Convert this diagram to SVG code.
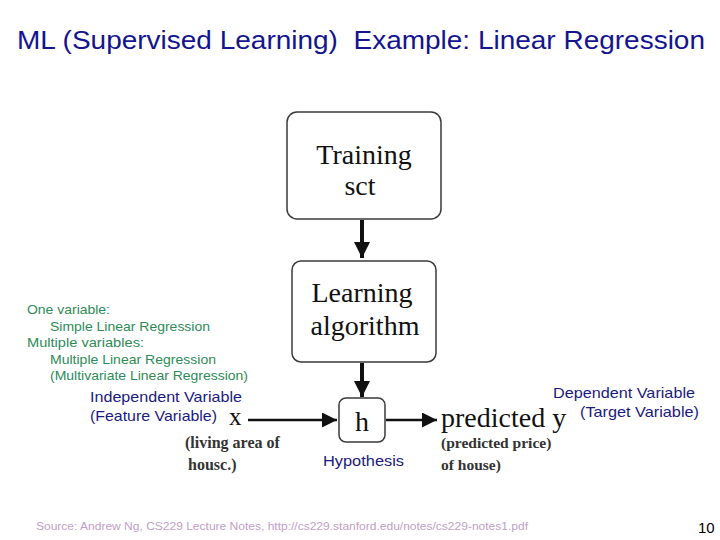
<svg xmlns="http://www.w3.org/2000/svg" width="720" height="540" viewBox="0 0 720 540">
<defs>
<style>
.box{fill:#fff;stroke:#3a3a3a;stroke-width:1.5}
.serif{font-family:"Liberation Serif","Times New Roman",serif;fill:#111}
.big{font-size:28px}
.sans{font-family:"Liberation Sans",Arial,sans-serif}
.blue{fill:#1a1a80}
.green{fill:#2e8b57;font-size:13.5px}
.con{stroke:#111;fill:none}
</style>
<marker id="ah" viewBox="0 0 10 10" refX="10" refY="5" markerWidth="4" markerHeight="4" markerUnits="strokeWidth" orient="auto"><path d="M0,0L10,5L0,10z" fill="#111"/></marker>
<marker id="ah2" viewBox="0 0 10 10" refX="10" refY="5" markerWidth="7" markerHeight="6" markerUnits="strokeWidth" orient="auto"><path d="M0,0L10,5L0,10z" fill="#111"/></marker>
</defs>
<rect width="720" height="540" fill="#fff"/>
<text x="17" y="49" class="sans" font-size="26" fill="#141490" xml:space="preserve" textLength="688" lengthAdjust="spacingAndGlyphs">ML (Supervised Learning)  Example: Linear Regression</text>

<g id="training-set">
<rect class="box" x="287" y="112" width="154" height="107" rx="10"/>
<text class="serif big" x="364" y="164" text-anchor="middle">Training</text>
<text class="serif big" x="360" y="195" text-anchor="middle">sct</text>
</g>
<g id="learning-algorithm">
<rect class="box" x="292" y="261" width="144" height="101" rx="9"/>
<text class="serif big" x="362" y="302" text-anchor="middle">Learning</text>
<text class="serif big" x="365" y="335" text-anchor="middle">algorithm</text>
</g>
<g id="hypothesis">
<rect class="box" x="339" y="398" width="46" height="44" rx="7"/>
<text class="serif big" x="362" y="431" text-anchor="middle">h</text>
<text class="sans blue" x="323" y="466" font-size="15" textLength="81" lengthAdjust="spacingAndGlyphs">Hypothesis</text>
</g>
<g id="input-x">
<text class="serif" x="229" y="425" font-size="25">x</text>
<text class="serif" x="185" y="448" font-size="16" font-weight="bold" style="fill:#333">(living area of</text>
<text class="serif" x="188" y="470" font-size="16" font-weight="bold" style="fill:#333">housc.)</text>
<text class="sans blue" x="90" y="402" font-size="15" textLength="152" lengthAdjust="spacingAndGlyphs">Independent Variable</text>
<text class="sans blue" x="90" y="421" font-size="15" textLength="127" lengthAdjust="spacingAndGlyphs">(Feature Variable)</text>
</g>
<g id="output-y">
<text class="serif big" x="441" y="427">predicted y</text>
<text class="serif" x="441" y="448" font-size="15.5" font-weight="bold" style="fill:#333">(predicted price)</text>
<text class="serif" x="441" y="470" font-size="15.5" font-weight="bold" style="fill:#333">of house)</text>
<text class="sans blue" x="553" y="398" font-size="15" textLength="142" lengthAdjust="spacingAndGlyphs">Dependent Variable</text>
<text class="sans blue" x="580" y="417" font-size="15" textLength="119" lengthAdjust="spacingAndGlyphs">(Target Variable)</text>
</g>
<g id="notes">
<text class="sans green" x="27" y="314" textLength="83" lengthAdjust="spacingAndGlyphs">One variable:</text>
<text class="sans green" x="50" y="331" textLength="160" lengthAdjust="spacingAndGlyphs">Simple Linear Regression</text>
<text class="sans green" x="27" y="347" textLength="117" lengthAdjust="spacingAndGlyphs">Multiple variables:</text>
<text class="sans green" x="50" y="364" textLength="166" lengthAdjust="spacingAndGlyphs">Multiple Linear Regression</text>
<text class="sans green" x="50" y="380" textLength="198" lengthAdjust="spacingAndGlyphs">(Multivariate Linear Regression)</text>
</g>
<g id="connectors">
<line class="con" x1="362" y1="220" x2="362" y2="258" stroke-width="4" marker-end="url(#ah)"/>
<line class="con" x1="362" y1="363" x2="362" y2="397" stroke-width="4" marker-end="url(#ah)"/>
<line class="con" x1="248" y1="420" x2="337" y2="420" stroke-width="2.5" marker-end="url(#ah2)"/>
<line class="con" x1="386" y1="420" x2="437" y2="420" stroke-width="2.5" marker-end="url(#ah2)"/>
</g>
<text class="sans" x="36" y="530" font-size="11.5" fill="#c0a0c8" textLength="492" lengthAdjust="spacingAndGlyphs">Source: Andrew Ng, CS229 Lecture Notes, http://cs229.stanford.edu/notes/cs229-notes1.pdf</text>
<text class="sans" x="698" y="533" font-size="15" fill="#000">10</text>
</svg>
